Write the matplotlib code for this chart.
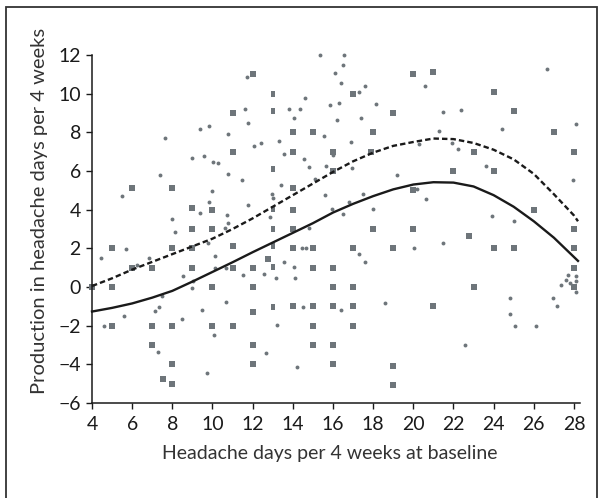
import matplotlib
matplotlib.use("Agg")
import matplotlib.pyplot as plt
import matplotlib.patches as patches
from matplotlib.path import Path

plt.rcParams['font.family'] = ['Lato', 'DejaVu Sans']

# square markers (x, y)
sq_x = [4, 5, 5, 5, 6, 6, 7, 7, 7, 7.55, 8, 8, 8, 8, 8, 9, 9, 9, 9, 10, 10, 10, 10,
        11, 11, 11, 11, 11, 12, 12, 12, 12, 12, 12, 12.75,
        14, 14, 14, 14, 14, 14, 14, 15, 15, 15, 15, 15, 15,
        16, 16, 16, 16, 16, 16, 16, 17, 17, 17, 17, 17, 17.9, 18, 18,
        19, 19, 19, 19, 20, 20, 20, 21, 21, 22, 22.75, 23, 23,
        24, 24, 24, 25, 25, 26, 27, 28, 28, 28, 28, 28]
sq_y = [0, 2, 0, -2, 5.1, 1, 1, -2, -3, -4.75, 5.1, 2, -2, -4, -5, 4.1, 3, 2, 1, 4, 3, 0, -2,
        9, 7, 2.1, 1, -2, 11, 1, 0, -1.3, -3, -4, 1.45,
        8, 7, 5.1, 4, 3, 2, -1, 8, 2, 1, -1, -2, -3,
        7, 6, 1, 0, -1, -3, -4, 10, 2, 0, -1, -2, 7, 8, 3,
        9, 2, -4.1, -5.05, 11, 5, 3, 11.1, -1, 6, 2.65, 7, 0,
        10.1, 6, 2, 9.1, 2, 4, 8, 7, 3, 2, 1, 0]

# narrow markers at 13 days
thin_x = [13, 13, 13, 13, 13, 13, 13, 13]
thin_y = [10, 9.1, 6.1, 4.05, 3, 2.1, 1.05, -1.05]

# dot markers (x, y)
dot_x = [4.46, 4.59, 5.47, 5.57, 5.68, 6.22, 6.83, 7.12, 7.34, 7.29, 7.40, 7.50, 7.65,
         7.96, 8.15, 8.47, 8.51, 8.97, 8.97, 9.04, 9.37, 9.37, 9.47, 9.60, 9.73, 9.81,
         9.81, 9.79, 9.96, 10.04, 10.29, 10.06, 10.12, 10.13, 10.61, 10.75, 10.73, 10.78,
         10.76, 10.65, 10.65, 11.47, 11.51, 11.62, 11.74, 11.76, 11.78, 12.06, 12.41,
         12.54, 12.64, 12.94, 13.0, 12.87, 13.15, 13.2, 13.29, 13.40, 13.54, 13.55, 13.82,
         14.05, 14.07, 14.13, 14.20, 14.38, 14.45, 14.51, 14.55, 14.62, 14.68, 14.80,
         14.83, 15.12, 15.37, 15.56, 15.60, 15.64, 15.85, 15.96, 16.02, 16.12, 16.19,
         16.29, 16.40, 16.40, 16.5, 16.52, 16.56, 16.80, 16.88, 16.96, 17.30, 17.40,
         17.32, 17.47, 17.59, 17.61, 17.97, 18.16, 18.58, 19.19, 20.01, 20.20, 20.28,
         20.59, 20.61, 21.26, 21.47, 21.47, 21.93, 22.23, 22.36, 22.56, 23.63, 23.93,
         24.43, 24.79, 24.79, 25.00, 25.08, 26.11, 26.68, 26.97, 27.14, 27.35, 27.60,
         27.68, 27.79, 27.93, 28.10, 28.10, 28.10, 28.10]
dot_y = [1.51, -2.04, 4.72, -1.48, 1.96, 1.15, 1.51, -1.24, -1.06, -3.35, 5.77, -0.45, 7.73,
         3.5, 2.85, -1.65, 0.58, 6.68, -0.05, 0.29, 8.17, 3.85, -1.17, 6.80, -4.46, 8.31,
         4.40, 2.27, 4.98, 6.46, 6.42, -2.5, 1.58, 0.96, 3.06, 3.33, 3.74, 7.90,
         5.87, -0.76, 0.96, 5.54, 0.62, 9.20, 10.88, 8.46, 4.26, 7.28, 7.45,
         0.65, -3.43, 4.81, 4.6, 3.61, 0.48, -1.96, 7.55, 5.29, 6.9, 1.27, 9.2,
         8.72, 1.05, 0.46, -4.12, 9.2, 2.04, -1.05, 6.63, 9.77, 2.01, 3.06,
         6.21, 5.60, 12.0, 7.83, 4.77, 6.25, 9.42, 4.05, 6.82, 11.06, 8.65,
         9.53, -1.20, 10.54, 3.79, 11.49, 12.0, 4.4, 7.48, 6.13, 10.11, 8.74,
         1.70, 4.79, 10.40, 1.27, 4.05, 9.49, -0.81, 5.77, 2.01, 5.05, 7.42,
         10.40, 4.57, 8.05, 9.03, 2.25, 7.45, 7.16, 9.17, -3.02, 6.25, 3.67,
         8.17, -0.58, -1.42, 3.42, -2.03, -2.03, 11.26, -0.58, -0.98, 0.12, 0.38,
         0.62, 0.21, 5.55, 8.45, 0.57, 0.29, -0.24]

# fitted curves
curve_x = [4, 5, 6, 7, 8, 9, 10, 11, 12, 13, 14, 15, 16, 17, 18, 19, 20, 21, 22, 23, 24,
           25, 26, 27, 28, 28.2]
solid_y = [-1.27, -1.08, -0.85, -0.55, -0.2, 0.28, 0.78, 1.28, 1.8, 2.3, 2.8, 3.3, 3.85,
           4.3, 4.7, 5.05, 5.3, 5.42, 5.4, 5.2, 4.75, 4.15, 3.4, 2.55, 1.55, 1.35]
dash_y = [0.05, 0.45, 0.9, 1.3, 1.7, 2.1, 2.5, 3.0, 3.55, 4.15, 4.75, 5.35, 5.95, 6.5,
          6.95, 7.3, 7.5, 7.68, 7.65, 7.45, 7.1, 6.6, 5.85, 4.8, 3.7, 3.4]

grey = '#6e757a'

fig = plt.figure(figsize=(6.02, 4.98), dpi=100)
ax = fig.add_axes([92 / 602, 1 - 403 / 498, 488 / 602, 348 / 498])

thin_marker = Path([(-0.25, -0.5), (0.25, -0.5), (0.25, 0.5), (-0.25, 0.5), (-0.25, -0.5)],
                   closed=True)

ax.plot(dot_x, dot_y, 'o', color=grey, markersize=2.8, markeredgewidth=0, clip_on=False)
ax.plot(sq_x, sq_y, 's', color=grey, markersize=4.8, markeredgewidth=0, clip_on=False)
ax.plot(thin_x, thin_y, marker=thin_marker, linestyle='none', color=grey, markersize=4.8,
        markeredgewidth=0, clip_on=False)

ax.plot(curve_x, solid_y, color='#1a1a1a', linewidth=1.7, zorder=5, clip_on=False)
ax.plot(curve_x, dash_y, color='#1a1a1a', linewidth=1.7, dashes=(2.3, 1.3), zorder=5,
        clip_on=False)

ax.set_xlim(4, 28.3)
ax.set_ylim(-6, 12)
ax.set_xticks(range(4, 29, 2))
ax.set_yticks(range(-6, 13, 2))
ax.set_yticklabels([str(v).replace('-', '\u2212') for v in range(-6, 13, 2)])
ax.tick_params(direction='out', length=4, width=1, labelsize=14, pad=4, colors='#1a1a1a')
ax.tick_params(axis='x', pad=5)
for side in ['top', 'right']:
    ax.spines[side].set_visible(False)
for side in ['left', 'bottom']:
    ax.spines[side].set_linewidth(1.1)
    ax.spines[side].set_color('#1a1a1a')

ax.set_xlabel('Headache days per 4 weeks at baseline', fontsize=14, color='#333333')
ax.set_ylabel('Production in headache days per 4 weeks', fontsize=14.5, color='#333333')
ax.xaxis.set_label_coords(0.488, -0.12)
ax.yaxis.set_label_coords(-0.09, 0.552)

# outer frame
frame = patches.Rectangle((6 / 602, -0.02), 591 / 602, 1 - 7 / 498 + 0.02,
                          transform=fig.transFigure, fill=False, edgecolor='#333333',
                          linewidth=1.3, clip_on=False)
fig.patches.append(frame)

fig.savefig('out.png', dpi=100)
